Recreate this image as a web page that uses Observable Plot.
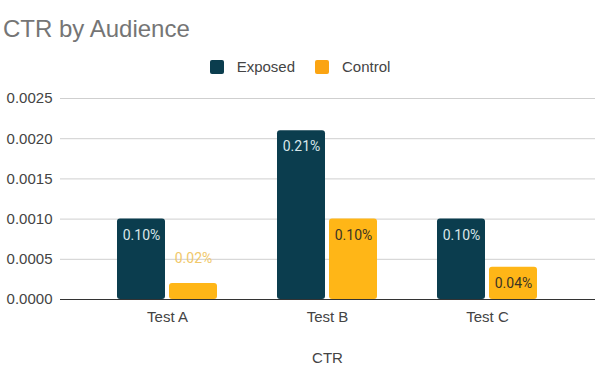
<!DOCTYPE html>
<html>
<head>
<meta charset="utf-8">
<script src="https://cdn.jsdelivr.net/npm/d3@7"></script>
<script src="https://cdn.jsdelivr.net/npm/@observablehq/plot@0.6"></script>
<style>
  html, body { margin: 0; padding: 0; background: #fff; }
  #wrap { position: relative; width: 600px; height: 375px; overflow: hidden; font-family: "Liberation Sans", Arial, sans-serif; }
  #title { position: absolute; left: 3px; top: 17px; font-size: 24px; line-height: 24px; color: #757575; white-space: nowrap; }
  #legend { position: absolute; left: 0; width: 600px; top: 59px; display: flex; justify-content: center; align-items: center; font-size: 15px; line-height: 15px; color: #444; }
  .item { display: flex; align-items: center; }
  .sw { width: 14px; height: 14px; border-radius: 2px; margin-right: 13px; }
  #chart { position: absolute; left: 0; top: 85px; }
  #xlabel { position: absolute; left: 60px; width: 535px; top: 350px; text-align: center; font-size: 15px; line-height: 15px; color: #444; }
</style>
</head>
<body>
<div id="wrap">
  <div id="title">CTR by Audience</div>
  <div id="legend"></div>
  <div id="chart"></div>
  <div id="xlabel">CTR</div>
</div>
<script>
const categories = ["Test A", "Test B", "Test C"];
const seriesNames = ["Exposed", "Control"];
const exposedValues = [0.0010, 0.0021, 0.0010];
const controlValues = [0.0002, 0.0010, 0.0004];
const exposedLabels = ["0.10%", "0.21%", "0.10%"];
const controlLabels = ["0.02%", "0.10%", "0.04%"];
const yTicks = [0, 0.0005, 0.0010, 0.0015, 0.0020, 0.0025];
const xAxisTitle = "CTR";

const colors = { Exposed: "#0b3d4e", Control: "#ffb617" };
const legendColors = { Exposed: "#0b3d4e", Control: "#fba412" };

// legend
const legend = document.getElementById("legend");
seriesNames.forEach((name, i) => {
  const it = document.createElement("div");
  it.className = "item";
  if (i > 0) it.style.marginLeft = "20px";
  const sw = document.createElement("div");
  sw.className = "sw";
  sw.style.background = legendColors[name];
  const t = document.createElement("span");
  t.textContent = name;
  it.appendChild(sw); it.appendChild(t);
  legend.appendChild(it);
});
document.getElementById("xlabel").textContent = xAxisTitle;

const exposed = categories.map((c, i) => ({ cat: c, value: exposedValues[i], label: exposedLabels[i] }));
const control = categories.map((c, i) => ({ cat: c, value: controlValues[i], label: controlLabels[i] }));
const controlInside = control.filter(d => d.value >= 0.0003);
const controlOutside = control.filter(d => d.value < 0.0003);

const half = 52;
const chart = Plot.plot({
  width: 600,
  height: 245,
  marginLeft: 60,
  marginRight: 5,
  marginTop: 13,
  marginBottom: 31,
  style: { fontFamily: "'Liberation Sans', Arial, sans-serif", fontSize: "15px", color: "#444", background: "transparent" },
  x: { domain: categories, paddingInner: 0.373, paddingOuter: 0.348, tickSize: 0, tickPadding: 12, label: null },
  y: { domain: [0, 0.0025], ticks: yTicks, tickFormat: d3.format(".4f"), tickSize: 0, tickPadding: 8, label: null, grid: true },
  marks: [
    Plot.ruleY(yTicks.filter(t => t > 0), { stroke: "#cfcfcf", strokeWidth: 1 }),
    Plot.barY(exposed, { x: "cat", y: "value", fill: colors.Exposed, insetRight: half, rx: 3 }),
    Plot.barY(control, { x: "cat", y: "value", fill: colors.Control, insetLeft: half, rx: 3 }),
    Plot.ruleY([0], { stroke: "#333", strokeWidth: 1.2 }),
    Plot.text(exposed, { x: "cat", y: "value", text: "label", dx: -26, dy: 16, fill: "#d8e6ea", fontFamily: "Roboto, sans-serif", fontSize: 14 }),
    Plot.text(controlInside, { x: "cat", y: "value", text: "label", dx: 26, dy: 16, fill: "#3b3424", fontFamily: "Roboto, sans-serif", fontSize: 14 }),
    Plot.text(controlOutside, { x: "cat", y: "value", text: "label", dx: 26, dy: -25, fill: "#f1c86a", fontFamily: "Roboto, sans-serif", fontSize: 14 })
  ]
});
chart.querySelectorAll("[aria-label='y-grid'] line, [aria-label='y-grid'] path").forEach(e => e.setAttribute("stroke-opacity", "0"));
document.getElementById("chart").appendChild(chart);
</script>
</body>
</html>
